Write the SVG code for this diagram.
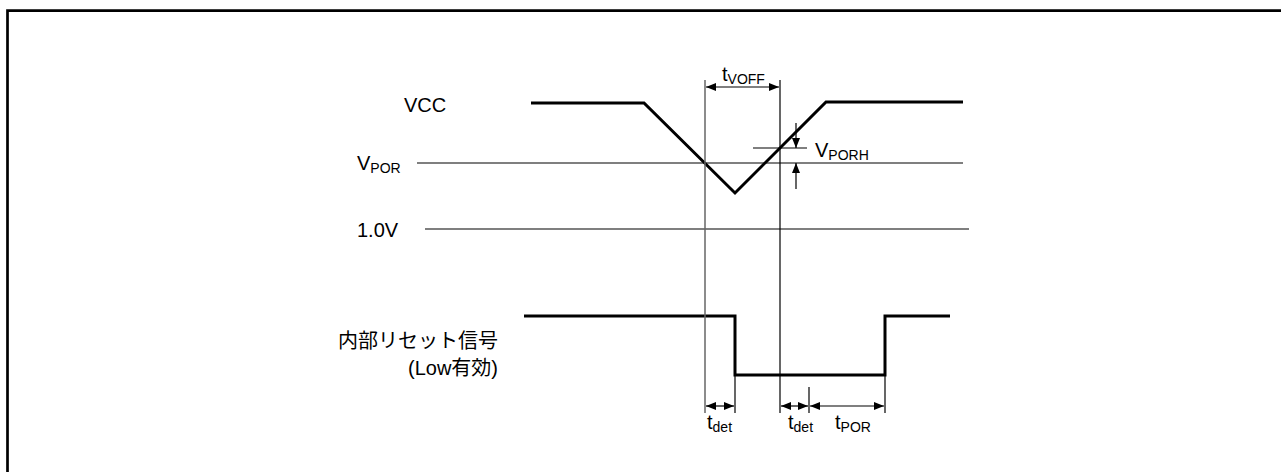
<svg xmlns="http://www.w3.org/2000/svg" width="1281" height="472" viewBox="0 0 1281 472">
<style>
.t{font-family:"Liberation Sans",Arial,"Noto Sans CJK JP",sans-serif;font-size:20px;fill:#000}
.s{font-size:14px}
.thick{fill:none;stroke:#000;stroke-width:3;stroke-linejoin:miter}
.thin{fill:none;stroke:#000;stroke-width:1.2}
.dim{fill:none;stroke:#000;stroke-width:1.2;marker-start:url(#a);marker-end:url(#a)}
</style>
<defs>
<marker id="a" viewBox="0 0 10 8" refX="10" refY="4" markerWidth="10" markerHeight="8" markerUnits="userSpaceOnUse" orient="auto-start-reverse">
<path d="M0,0 L10,4 L0,8 Z" fill="#000"/>
</marker>
</defs>
<rect width="1281" height="472" fill="#fff"/>
<g id="frame">
<path d="M7.5,472 V10.7 H1281" fill="none" stroke="#000" stroke-width="2.7"/>
</g>
<g id="labels">
<text class="t" x="404" y="112">VCC</text>
<text class="t" x="357" y="170">V<tspan class="s" dy="3">POR</tspan></text>
<text class="t" x="357" y="237">1.0V</text>
<text class="t" x="498" y="348" text-anchor="end">内部リセット信号</text>
<text class="t" x="498" y="375" text-anchor="end">(Low有効)</text>
</g>
<g id="levels">
<line class="thin" x1="417" y1="163" x2="963" y2="163"/>
<line class="thin" x1="425" y1="229" x2="969" y2="229"/>
</g>
<g id="vcc">
<polyline class="thick" points="531,103 644,103 735,193 826,102 963,102"/>
</g>
<g id="reset">
<polyline class="thick" points="524,316 735,316 735,375 885,375 885,316 950,316"/>
</g>
<g id="connectors">
<line x1="705" y1="80" x2="705" y2="413" stroke="#666" stroke-width="1.5"/>
<line class="thin" x1="780" y1="80" x2="780" y2="413"/>
<line class="thin" x1="735" y1="375" x2="735" y2="413"/>
<line class="thin" x1="809" y1="387" x2="809" y2="413"/>
<line class="thin" x1="885" y1="375" x2="885" y2="413"/>
<line class="dim" x1="706" y1="87" x2="779" y2="87"/>
<line class="dim" x1="706" y1="406" x2="734" y2="406"/>
<line class="dim" x1="781" y1="406" x2="808" y2="406"/>
<line class="dim" x1="810" y1="406" x2="884" y2="406"/>
<line class="thin" x1="753" y1="148" x2="807" y2="148"/>
<line class="thin" x1="796" y1="123" x2="796" y2="148" marker-end="url(#a)"/>
<line class="thin" x1="796" y1="189" x2="796" y2="163" marker-end="url(#a)"/>
</g>
<g id="dimlabels">
<text class="t" x="722" y="81">t<tspan class="s" dy="3">VOFF</tspan></text>
<text class="t" x="815" y="157">V<tspan class="s" dy="3">PORH</tspan></text>
<text class="t" x="707" y="429">t<tspan class="s" dy="3">det</tspan></text>
<text class="t" x="788" y="429">t<tspan class="s" dy="3">det</tspan></text>
<text class="t" x="835" y="429">t<tspan class="s" dy="3">POR</tspan></text>
</g>
</svg>
